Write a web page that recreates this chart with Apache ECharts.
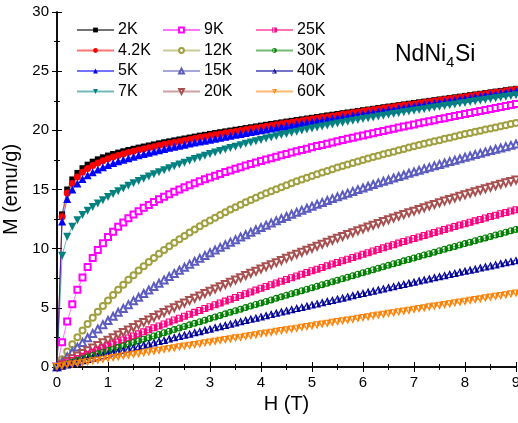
<!DOCTYPE html>
<html>
<head>
<meta charset="utf-8">
<script src="https://cdn.jsdelivr.net/npm/echarts@6/dist/echarts.min.js"></script>
<style>
  html, body { margin: 0; padding: 0; background: #fff; }
  #chart { width: 518px; height: 423px; }
</style>
</head>
<body>
<div id="chart"></div>
<script>
// field grid (T)
var H = [0,0.1,0.2,0.3,0.4,0.5,0.6,0.7,0.8,0.9,
  1,1.1,1.2,1.3,1.4,1.5,1.6,1.7,1.8,1.9,
  2,2.1,2.2,2.3,2.4,2.5,2.6,2.7,2.8,2.9,
  3,3.1,3.2,3.3,3.4,3.5,3.6,3.7,3.8,3.9,
  4,4.1,4.2,4.3,4.4,4.5,4.6,4.7,4.8,4.9,
  5,5.1,5.2,5.3,5.4,5.5,5.6,5.7,5.8,5.9,
  6,6.1,6.2,6.3,6.4,6.5,6.6,6.7,6.8,6.9,
  7,7.1,7.2,7.3,7.4,7.5,7.6,7.7,7.8,7.9,
  8,8.1,8.2,8.3,8.4,8.5,8.6,8.7,8.8,8.9,
  9];

// M (emu/g) for each temperature
var m2K = [0,12.9,15.0,15.85,16.4,16.8,17.1,17.35,17.55,17.72,
  17.87,18.0,18.12,18.23,18.34,18.44,18.54,18.63,18.72,18.81,
  18.9,18.99,19.07,19.15,19.23,19.31,19.39,19.47,19.55,19.62,
  19.7,19.77,19.84,19.91,19.98,20.05,20.12,20.19,20.26,20.33,
  20.4,20.47,20.54,20.6,20.67,20.74,20.8,20.87,20.93,21.0,
  21.06,21.13,21.19,21.26,21.32,21.38,21.45,21.51,21.57,21.64,
  21.7,21.76,21.82,21.89,21.95,22.01,22.07,22.13,22.19,22.25,
  22.31,22.37,22.43,22.49,22.55,22.61,22.67,22.73,22.79,22.85,
  22.91,22.97,23.03,23.09,23.15,23.21,23.27,23.33,23.39,23.45,
  23.51];
var m4K = [0,12.7,14.7,15.5,16.05,16.45,16.77,17.03,17.25,17.44,
  17.6,17.75,17.88,18.0,18.12,18.23,18.33,18.43,18.53,18.62,
  18.71,18.8,18.89,18.97,19.06,19.14,19.22,19.3,19.39,19.46,
  19.54,19.62,19.69,19.77,19.84,19.91,19.98,20.06,20.13,20.2,
  20.27,20.34,20.41,20.48,20.55,20.62,20.68,20.75,20.82,20.89,
  20.95,21.02,21.09,21.15,21.22,21.28,21.35,21.41,21.48,21.54,
  21.61,21.67,21.73,21.8,21.86,21.92,21.99,22.05,22.11,22.17,
  22.23,22.29,22.36,22.42,22.48,22.54,22.6,22.66,22.72,22.78,
  22.84,22.9,22.96,23.02,23.09,23.15,23.21,23.27,23.33,23.39,
  23.45];
var m5K = [0,12.3,14.2,15.0,15.5,15.88,16.2,16.46,16.69,16.89,
  17.07,17.23,17.38,17.52,17.65,17.77,17.89,18.0,18.11,18.22,
  18.32,18.42,18.52,18.61,18.7,18.79,18.88,18.97,19.05,19.13,
  19.21,19.29,19.38,19.46,19.54,19.62,19.7,19.77,19.85,19.92,
  20.0,20.07,20.15,20.22,20.3,20.37,20.44,20.51,20.59,20.66,
  20.73,20.8,20.86,20.93,21.0,21.06,21.13,21.2,21.27,21.33,
  21.4,21.47,21.53,21.6,21.66,21.73,21.79,21.86,21.92,21.99,
  22.05,22.12,22.18,22.25,22.31,22.38,22.44,22.51,22.57,22.64,
  22.7,22.76,22.83,22.89,22.96,23.02,23.08,23.14,23.21,23.27,
  23.33];
var m7K = [0,9.4,11.0,11.85,12.4,12.85,13.2,13.52,13.82,14.1,
  14.37,14.62,14.86,15.09,15.31,15.52,15.72,15.91,16.1,16.28,
  16.46,16.63,16.8,16.96,17.12,17.27,17.42,17.57,17.71,17.85,
  17.99,18.12,18.25,18.38,18.5,18.62,18.74,18.86,18.97,19.08,
  19.19,19.3,19.4,19.5,19.6,19.7,19.8,19.89,19.98,20.07,
  20.16,20.25,20.33,20.41,20.49,20.57,20.65,20.72,20.8,20.88,
  20.95,21.02,21.09,21.17,21.24,21.31,21.38,21.45,21.52,21.59,
  21.66,21.72,21.79,21.86,21.92,21.99,22.06,22.12,22.19,22.26,
  22.32,22.39,22.45,22.52,22.58,22.65,22.71,22.78,22.84,22.91,
  22.97];
var m9K = [0,2.1,3.84,5.3,6.52,7.56,8.45,9.22,9.88,10.46,
  10.98,11.43,11.85,12.22,12.56,12.88,13.17,13.45,13.7,13.94,
  14.17,14.39,14.6,14.8,14.99,15.18,15.36,15.53,15.7,15.86,
  16.02,16.17,16.32,16.47,16.61,16.75,16.89,17.02,17.15,17.28,
  17.41,17.53,17.65,17.77,17.89,18.0,18.12,18.23,18.34,18.45,
  18.56,18.67,18.77,18.87,18.98,19.08,19.18,19.28,19.38,19.48,
  19.57,19.67,19.76,19.86,19.95,20.04,20.14,20.23,20.32,20.41,
  20.5,20.59,20.68,20.77,20.86,20.95,21.03,21.12,21.21,21.29,
  21.38,21.47,21.55,21.64,21.72,21.81,21.89,21.98,22.06,22.14,
  22.23];
var m12K = [0,0.66,1.3,1.92,2.51,3.08,3.63,4.16,4.67,5.16,
  5.63,6.09,6.53,6.96,7.37,7.76,8.15,8.52,8.88,9.22,
  9.56,9.88,10.2,10.5,10.8,11.08,11.36,11.63,11.89,12.14,
  12.38,12.62,12.85,13.08,13.3,13.51,13.72,13.92,14.12,14.31,
  14.49,14.68,14.85,15.03,15.2,15.36,15.53,15.69,15.84,15.99,
  16.14,16.29,16.43,16.57,16.71,16.85,16.98,17.11,17.24,17.37,
  17.49,17.61,17.74,17.86,17.97,18.09,18.2,18.32,18.43,18.54,
  18.65,18.76,18.86,18.97,19.07,19.17,19.28,19.38,19.48,19.58,
  19.68,19.78,19.87,19.97,20.07,20.16,20.25,20.35,20.44,20.53,
  20.63];
var m15K = [0,0.44,0.86,1.28,1.68,2.08,2.47,2.84,3.22,3.58,
  3.93,4.28,4.62,4.95,5.27,5.59,5.9,6.21,6.51,6.8,
  7.08,7.36,7.64,7.91,8.17,8.43,8.69,8.93,9.18,9.42,
  9.65,9.88,10.11,10.33,10.55,10.76,10.98,11.18,11.39,11.59,
  11.78,11.98,12.17,12.35,12.54,12.72,12.9,13.07,13.24,13.41,
  13.58,13.75,13.91,14.07,14.23,14.38,14.54,14.69,14.84,14.99,
  15.13,15.27,15.42,15.56,15.7,15.83,15.97,16.1,16.23,16.37,
  16.49,16.62,16.75,16.87,17.0,17.12,17.24,17.36,17.48,17.6,
  17.72,17.83,17.95,18.06,18.18,18.29,18.4,18.51,18.62,18.73,
  18.84];
var m20K = [0,0.23,0.46,0.69,0.92,1.15,1.37,1.6,1.82,2.04,
  2.26,2.48,2.7,2.91,3.13,3.34,3.56,3.77,3.98,4.19,
  4.39,4.6,4.81,5.01,5.21,5.41,5.61,5.81,6.01,6.21,
  6.4,6.6,6.79,6.98,7.17,7.36,7.55,7.73,7.92,8.1,
  8.28,8.47,8.65,8.82,9.0,9.18,9.35,9.53,9.7,9.87,
  10.04,10.21,10.38,10.54,10.71,10.87,11.03,11.19,11.35,11.51,
  11.67,11.83,11.98,12.13,12.29,12.44,12.59,12.74,12.88,13.03,
  13.17,13.32,13.46,13.6,13.74,13.88,14.02,14.15,14.29,14.42,
  14.55,14.68,14.81,14.94,15.07,15.19,15.32,15.44,15.56,15.68,
  15.8];
var m25K = [0,0.18,0.36,0.54,0.72,0.9,1.07,1.25,1.42,1.6,
  1.77,1.95,2.12,2.29,2.46,2.63,2.8,2.97,3.14,3.31,
  3.47,3.64,3.8,3.97,4.13,4.29,4.46,4.62,4.78,4.94,
  5.1,5.26,5.41,5.57,5.73,5.88,6.04,6.19,6.34,6.5,
  6.65,6.8,6.95,7.1,7.25,7.4,7.54,7.69,7.84,7.98,
  8.13,8.27,8.41,8.55,8.7,8.84,8.98,9.11,9.25,9.39,
  9.53,9.66,9.8,9.93,10.07,10.2,10.33,10.47,10.6,10.73,
  10.86,10.99,11.11,11.24,11.37,11.49,11.62,11.74,11.87,11.99,
  12.11,12.23,12.35,12.47,12.59,12.71,12.83,12.95,13.06,13.18,
  13.29];
var m30K = [0,0.14,0.28,0.42,0.56,0.7,0.84,0.97,1.11,1.25,
  1.39,1.53,1.66,1.8,1.94,2.07,2.21,2.35,2.48,2.62,
  2.75,2.89,3.02,3.16,3.29,3.43,3.56,3.69,3.83,3.96,
  4.09,4.22,4.36,4.49,4.62,4.75,4.88,5.02,5.15,5.28,
  5.41,5.54,5.67,5.8,5.93,6.06,6.19,6.31,6.44,6.57,
  6.7,6.83,6.96,7.08,7.21,7.34,7.46,7.59,7.72,7.84,
  7.97,8.09,8.22,8.34,8.47,8.59,8.72,8.84,8.97,9.09,
  9.21,9.34,9.46,9.58,9.7,9.83,9.95,10.07,10.19,10.31,
  10.43,10.55,10.67,10.79,10.91,11.03,11.15,11.27,11.39,11.51,
  11.63];
var m40K = [0,0.11,0.22,0.33,0.45,0.56,0.67,0.78,0.89,1.0,
  1.11,1.22,1.33,1.43,1.54,1.65,1.76,1.87,1.97,2.08,
  2.19,2.29,2.4,2.51,2.61,2.72,2.82,2.93,3.03,3.14,
  3.24,3.35,3.45,3.55,3.66,3.76,3.86,3.97,4.07,4.17,
  4.27,4.37,4.47,4.58,4.68,4.78,4.88,4.98,5.08,5.18,
  5.28,5.37,5.47,5.57,5.67,5.77,5.86,5.96,6.06,6.16,
  6.25,6.35,6.44,6.54,6.64,6.73,6.83,6.92,7.01,7.11,
  7.2,7.3,7.39,7.48,7.58,7.67,7.76,7.85,7.95,8.04,
  8.13,8.22,8.31,8.4,8.49,8.58,8.67,8.76,8.85,8.94,
  9.03];
var m60K = [0,0.07,0.14,0.21,0.28,0.35,0.41,0.48,0.55,0.62,
  0.69,0.76,0.83,0.9,0.97,1.04,1.1,1.17,1.24,1.31,
  1.38,1.45,1.52,1.59,1.66,1.73,1.79,1.86,1.93,2.0,
  2.07,2.14,2.21,2.28,2.35,2.42,2.48,2.55,2.62,2.69,
  2.76,2.83,2.9,2.97,3.04,3.11,3.17,3.24,3.31,3.38,
  3.45,3.52,3.59,3.66,3.73,3.8,3.86,3.93,4.0,4.07,
  4.14,4.21,4.28,4.35,4.42,4.49,4.55,4.62,4.69,4.76,
  4.83,4.9,4.97,5.04,5.11,5.18,5.24,5.31,5.38,5.45,
  5.52,5.59,5.66,5.73,5.8,5.87,5.93,6.0,6.07,6.14,
  6.21];

var names = ['2K','4.2K','5K','7K','9K','12K','15K','20K','25K','30K','40K','60K'];
var values = [m2K,m4K,m5K,m7K,m9K,m12K,m15K,m20K,m25K,m30K,m40K,m60K];
var xTicks = [0,1,2,3,4,5,6,7,8,9];
var yTicks = [0,5,10,15,20,25,30];

var colors = ['#000000','#ff0000','#0000ff','#008080','#ff00ff','#a0a040',
              '#5c5cc0','#a85050','#ff0080','#008000','#000099','#ff8000'];

// half filled markers: outline ring + right half
var halfRect = 'path://M0,0L10,0L10,10L0,10Z M1.5,1.5L1.5,8.5L8.5,8.5L8.5,1.5Z M5,1.5L8.5,1.5L8.5,8.5L5,8.5Z';
var halfCircle = 'path://M5,0A5,5 0 1 1 5,10A5,5 0 1 1 5,0Z M5,1.5A3.5,3.5 0 1 0 5,8.5A3.5,3.5 0 1 0 5,1.5Z M5,1.5A3.5,3.5 0 0 1 5,8.5Z';
var halfUp = 'path://M5,0L10,10L0,10Z M5,3L1.9,8.8L8.1,8.8Z M5,3L8.1,8.8L5,8.8Z';
var halfDown = 'path://M0,0L10,0L5,10Z M1.9,1.2L5,7L8.1,1.2Z M5,1.2L8.1,1.2L5,7Z';

var symbols = ['rect','circle','triangle','triangle','emptyRect','emptyCircle',
               'emptyTriangle','emptyTriangle',halfRect,halfCircle,halfUp,halfDown];
var rotates = [0,0,0,180,0,0,0,180,0,0,0,0];
var sizes = [6,7,8,8,6,6,7,7,7,7,8,8];

var chart = echarts.init(document.getElementById('chart'), null, {renderer: 'canvas'});

var series = [];
for (var i = 0; i < names.length; i++) {
  var pts = [];
  for (var j = 0; j < H.length; j++) pts.push([H[j], values[i][j]]);
  var empty = symbols[i].indexOf('empty') === 0;
  series.push({
    name: names[i],
    type: 'line',
    data: pts,
    symbol: symbols[i],
    symbolSize: sizes[i],
    symbolRotate: rotates[i],
    showSymbol: true,
    showAllSymbol: true,
    clip: false,
    lineStyle: { color: colors[i], width: 1, opacity: 0.55 },
    itemStyle: { color: colors[i], borderColor: colors[i], borderWidth: empty ? 1 : 0 },
    emphasis: { disabled: true },
    z: 2 + i
  });
}

function legendCol(left, items) {
  return {
    orient: 'vertical',
    left: left,
    top: 22,
    padding: 0,
    itemWidth: 37,
    itemHeight: 6,
    itemGap: 4.5,
    selectedMode: false,
    data: items,
    textStyle: { fontSize: 16, color: '#000', fontFamily: 'Liberation Sans', lineHeight: 16, padding: [0,0,0,-1] }
  };
}

var option = {
  animation: false,
  backgroundColor: '#fff',
  textStyle: { fontFamily: 'Liberation Sans' },
  grid: { left: 57, right: 2, top: 12, bottom: 56, outerBoundsMode: 'none', containLabel: false },
  legend: [
    legendCol(76, names.slice(0, 4)),
    legendCol(162, names.slice(4, 8)),
    legendCol(255, names.slice(8, 12))
  ],
  xAxis: [{
    type: 'value', min: xTicks[0], max: xTicks[xTicks.length - 1], interval: 1,
    name: 'H (T)', nameLocation: 'middle', nameGap: 25,
    nameTextStyle: { fontSize: 20, color: '#000' },
    axisLine: { lineStyle: { color: '#000', width: 1.5 } },
    axisTick: { inside: true, length: 5, lineStyle: { color: '#000', width: 1 } },
    minorTick: { show: true, splitNumber: 2, length: 3, lineStyle: { color: '#000', width: 1 } },
    axisLabel: { fontSize: 15, color: '#000', margin: 8 },
    splitLine: { show: false }
  }, {
    type: 'value', position: 'top', min: 0, max: 9, interval: 1,
    axisLine: { lineStyle: { color: '#000', width: 1.5 } },
    axisTick: { inside: true, length: 5, lineStyle: { color: '#000', width: 1 } },
    minorTick: { show: true, splitNumber: 2, length: 3, lineStyle: { color: '#000', width: 1 } },
    axisLabel: { show: false },
    splitLine: { show: false }
  }],
  yAxis: [{
    type: 'value', min: yTicks[0], max: yTicks[yTicks.length - 1], interval: 5,
    name: 'M (emu/g)', nameLocation: 'middle', nameGap: 29,
    nameTextStyle: { fontSize: 20, color: '#000' },
    axisLine: { lineStyle: { color: '#000', width: 1.5 } },
    axisTick: { inside: true, length: 5, lineStyle: { color: '#000', width: 1 } },
    minorTick: { show: true, splitNumber: 2, length: 3, lineStyle: { color: '#000', width: 1 } },
    axisLabel: { fontSize: 15, color: '#000', margin: 8 },
    splitLine: { show: false }
  }, {
    type: 'value', position: 'right', min: 0, max: 30, interval: 5,
    axisLine: { show: true, lineStyle: { color: '#000', width: 1.5 } },
    axisTick: { show: true, inside: true, length: 5, lineStyle: { color: '#000', width: 1 } },
    minorTick: { show: true, splitNumber: 2, length: 3, lineStyle: { color: '#000', width: 1 } },
    axisLabel: { show: false },
    splitLine: { show: false }
  }],
  graphic: [
    { type: 'text', x: 395, y: 66, style: { text: 'NdNi', font: '23px Liberation Sans', fill: '#000', textVerticalAlign: 'bottom', verticalAlign: 'bottom' } },
    { type: 'text', x: 446, y: 70, style: { text: '4', font: '15px Liberation Sans', fill: '#000', textVerticalAlign: 'bottom', verticalAlign: 'bottom' } },
    { type: 'text', x: 455, y: 66, style: { text: 'Si', font: '23px Liberation Sans', fill: '#000', textVerticalAlign: 'bottom', verticalAlign: 'bottom' } }
  ],
  series: series
};

chart.setOption(option);
</script>
</body>
</html>
